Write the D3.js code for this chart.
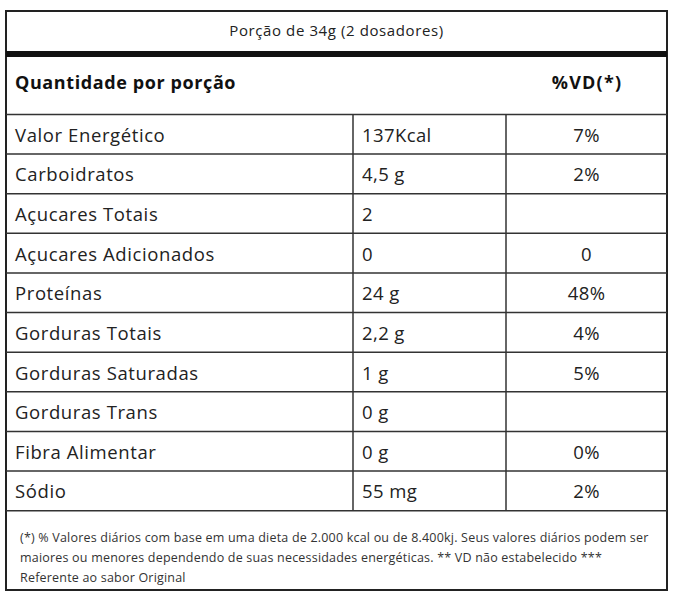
<!DOCTYPE html>
<html><head><meta charset="utf-8">
<script src="https://cdn.jsdelivr.net/npm/d3@7"></script>
<style>html,body{margin:0;padding:0;background:#fff;}svg{display:block;}</style>
</head><body>
<script>
const title = "Porção de 34g (2 dosadores)";
const headerLeft = "Quantidade por porção";
const headerRight = "%VD(*)";
const nutrients = ["Valor Energético","Carboidratos","Açucares Totais","Açucares Adicionados","Proteínas","Gorduras Totais","Gorduras Saturadas","Gorduras Trans","Fibra Alimentar","Sódio"];
const amounts = ["137Kcal","4,5 g","2","0","24 g","2,2 g","1 g","0 g","0 g","55 mg"];
const vd = ["7%","2%","","0","48%","4%","5%","","0%","2%"];
const footnote = ["(*) % Valores diários com base em uma dieta de 2.000 kcal ou de 8.400kj. Seus valores diários podem ser",
  "maiores ou menores dependendo de suas necessidades energéticas. ** VD não estabelecido ***",
  "Referente ao sabor Original"];

const W = 674, H = 600;
const font = "'Open Sans', sans-serif";
const ink = "#222";
const svg = d3.select("body").append("svg").attr("width", W).attr("height", H);

const L = 6, R = 667, T = 11, B = 590;
const c1 = 353, c2 = 506;
const y = d3.scaleBand().domain(nutrients).range([114.5, 510.7]).paddingInner(0).paddingOuter(0);

svg.append("rect").attr("x", L).attr("y", T).attr("width", R - L).attr("height", B - T)
  .attr("fill", "none").attr("stroke", "#222").attr("stroke-width", 2);
svg.append("rect").attr("x", L).attr("y", 51).attr("width", R - L).attr("height", 6).attr("fill", "#111");

svg.append("text").attr("x", (L + R) / 2).attr("y", 30).attr("text-anchor", "middle").attr("dominant-baseline", "central")
  .attr("font-family", font).attr("font-size", 15).attr("letter-spacing", 0.6).attr("fill", ink).text(title);
svg.append("text").attr("x", 15).attr("y", 82).attr("dominant-baseline", "central")
  .attr("font-family", font).attr("font-weight", 700).attr("font-size", 18).attr("letter-spacing", 0.6).attr("fill", "#111").text(headerLeft);
svg.append("text").attr("x", 587).attr("y", 82).attr("text-anchor", "middle").attr("dominant-baseline", "central")
  .attr("font-family", font).attr("font-weight", 700).attr("font-size", 18).attr("letter-spacing", 1.2).attr("fill", "#111").text(headerRight);

const lineYs = nutrients.map(n => y(n)).concat([y(nutrients[nutrients.length - 1]) + y.bandwidth()]);
svg.selectAll("line.row").data(lineYs).join("line").attr("class", "row")
  .attr("x1", L).attr("x2", R).attr("y1", d => d).attr("y2", d => d)
  .attr("stroke", "#333").attr("stroke-width", 1.5);
svg.selectAll("line.col").data([c1, c2]).join("line").attr("class", "col")
  .attr("x1", d => d).attr("x2", d => d).attr("y1", y.range()[0]).attr("y2", y.range()[1])
  .attr("stroke", "#333").attr("stroke-width", 1.5);

const rows = svg.selectAll("g.r").data(nutrients.map((n, i) => ({n, a: amounts[i], v: vd[i]})))
  .join("g").attr("class", "r").attr("transform", d => `translate(0,${y(d.n) + y.bandwidth() / 2})`);
rows.append("text").attr("x", 15).attr("dominant-baseline", "central")
  .attr("font-family", font).attr("font-size", 18.5).attr("letter-spacing", 0.6).attr("fill", ink).text(d => d.n);
rows.append("text").attr("x", 362).attr("dominant-baseline", "central")
  .attr("font-family", font).attr("font-size", 18.5).attr("letter-spacing", 0.4).attr("fill", ink).text(d => d.a);
rows.append("text").attr("x", (c2 + R) / 2).attr("text-anchor", "middle").attr("dominant-baseline", "central")
  .attr("font-family", font).attr("font-size", 18.5).attr("letter-spacing", 0.4).attr("fill", ink).text(d => d.v);

svg.selectAll("text.foot").data(footnote).join("text").attr("class", "foot")
  .attr("x", 20).attr("y", (d, i) => 537 + i * 20).attr("dominant-baseline", "central")
  .attr("font-family", font).attr("font-size", 12.5).attr("letter-spacing", 0.2).attr("fill", "#333").text(d => d);
</script>
</body></html>
